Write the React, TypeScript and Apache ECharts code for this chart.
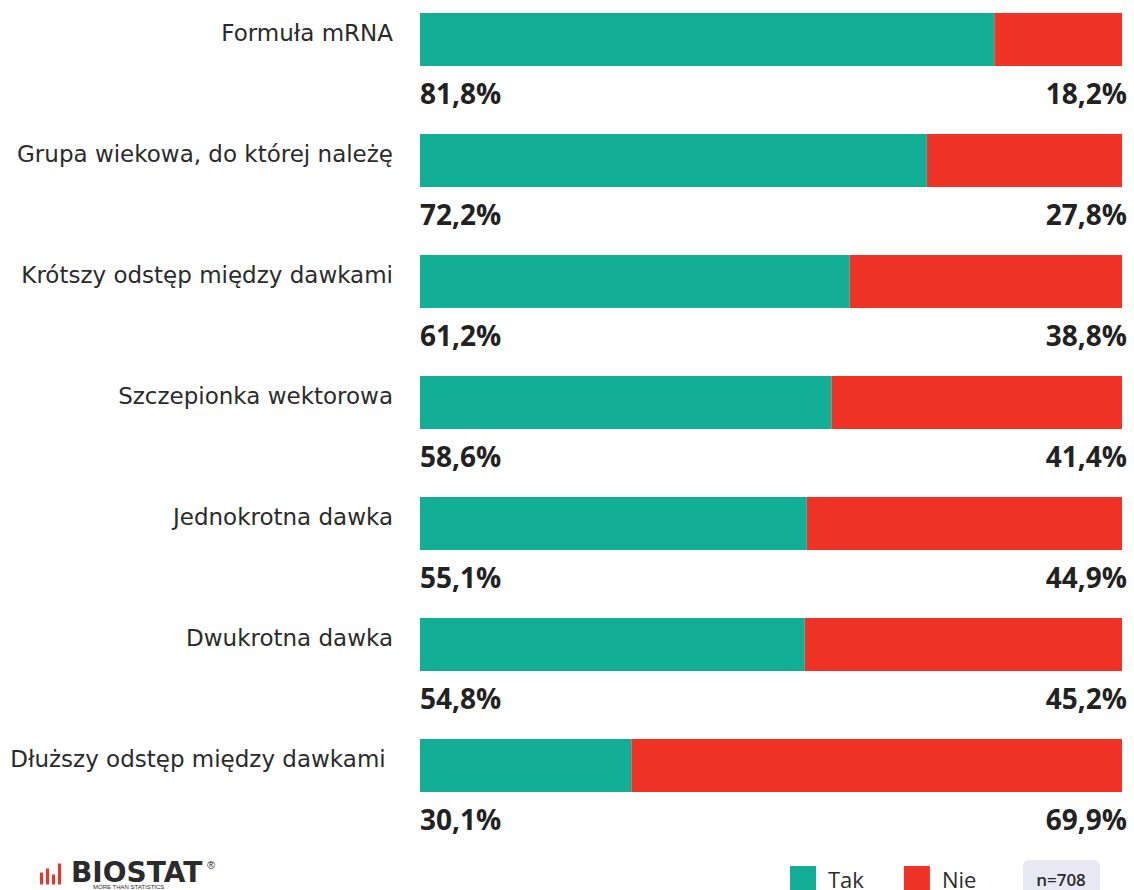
import React, { useEffect, useRef } from "react";
import * as echarts from "echarts";

const categories = [
  "Formuła mRNA",
  "Grupa wiekowa, do której należę",
  "Krótszy odstęp między dawkami",
  "Szczepionka wektorowa",
  "Jednokrotna dawka",
  "Dwukrotna dawka",
  "Dłuższy odstęp między dawkami ",
];
const takValues = [81.8, 72.2, 61.2, 58.6, 55.1, 54.8, 30.1];
const nieValues = [18.2, 27.8, 38.8, 41.4, 44.9, 45.2, 69.9];
const seriesNames = ["Tak", "Nie"];
const sampleLabel = "n=708";

const FONT = "'Open Sans', sans-serif";
const CAT_FONT = "'DejaVu Sans', sans-serif";
const NUM_FONT = "'Open Sans', sans-serif";
const fmt = (v: number) => v.toFixed(1).replace(".", ",") + "%";

export default function App() {
  const ref = useRef<HTMLDivElement>(null);
  useEffect(() => {
    document.body.style.margin = "0";
    const chart = echarts.init(ref.current!, null, { renderer: "svg" });
    chart.setOption({
      animation: false,
      backgroundColor: "#ffffff",
      textStyle: { fontFamily: FONT },
      grid: { left: 420, right: 12, top: -21, height: 847, outerBoundsMode: "none", containLabel: false },
      xAxis: { type: "value", min: 0, max: 100, show: false },
      yAxis: {
        type: "category",
        inverse: true,
        data: categories,
        axisLine: { show: false },
        axisTick: { show: false },
        axisLabel: {
          margin: 27,
          fontSize: 23,
          color: "#2b2b2b",
          fontFamily: CAT_FONT,
          verticalAlign: "bottom",
          lineHeight: 14,
        },
      },
      legend: {
        left: 785,
        top: 861,
        itemWidth: 26,
        itemHeight: 26,
        itemGap: 40,
        icon: "rect",
        textStyle: { fontSize: 22, color: "#2b2b2b", fontFamily: FONT, padding: [0, 0, 0, 7] },
        data: seriesNames,
      },
      series: [
        {
          name: seriesNames[0],
          type: "bar",
          stack: "total",
          barWidth: 53,
          data: takValues,
          itemStyle: { color: "#13ae96" },
          label: {
            show: true,
            position: [0, 80],
            align: "left",
            verticalAlign: "middle",
            formatter: (p: any) => fmt(p.value),
            fontSize: 28,
            fontWeight: "bold",
            color: "#222222",
            fontFamily: NUM_FONT,
          },
        },
        {
          name: seriesNames[1],
          type: "bar",
          stack: "total",
          barWidth: 53,
          data: nieValues,
          itemStyle: { color: "#ef3427" },
          label: {
            show: true,
            position: ["100%", 80],
            align: "right",
            verticalAlign: "middle",
            offset: [5, 0],
            formatter: (p: any) => fmt(p.value),
            fontSize: 28,
            fontWeight: "bold",
            color: "#222222",
            fontFamily: NUM_FONT,
          },
        },
      ],
      graphic: [
        {
          type: "group",
          left: 40,
          top: 858,
          children: [
            { type: "rect", shape: { x: 0, y: 13, width: 3, height: 12 }, style: { fill: "#ef3427" } },
            { type: "rect", shape: { x: 6, y: 9, width: 3, height: 16 }, style: { fill: "#ef3427" } },
            { type: "rect", shape: { x: 12, y: 15, width: 3, height: 10 }, style: { fill: "#ef3427" } },
            { type: "rect", shape: { x: 18, y: 4, width: 3, height: 21 }, style: { fill: "#ef3427" } },
            {
              type: "text",
              x: 31,
              y: 0,
              style: { text: "BIOSTAT", fontSize: 28, lineHeight: 25, fontWeight: "bold", fill: "#2b2b2b", fontFamily: "'DejaVu Sans', sans-serif" },
            },
            { type: "text", x: 167, y: 0, style: { text: "®", fontSize: 11, fill: "#2b2b2b" } },
          ],
        },
        {
          type: "text",
          left: 93,
          top: 884,
          style: { text: "MORE THAN STATISTICS", fontSize: 6, lineHeight: 6, fill: "#2b2b2b" },
        },
        {
          type: "rect",
          shape: { x: 1023, y: 860, width: 77, height: 40, r: 6 },
          style: { fill: "#e7e8f4" },
        },
        {
          type: "text",
          x: 1061,
          y: 879,
          style: { text: sampleLabel, fontSize: 17, fontWeight: 600, fill: "#2b2b2b", align: "center", verticalAlign: "middle", fontFamily: FONT },
        },
      ],
    });
    return () => chart.dispose();
  }, []);
  return <div ref={ref} style={{ width: 1134, height: 890, position: "absolute", left: 0, top: 0 }} />;
}
